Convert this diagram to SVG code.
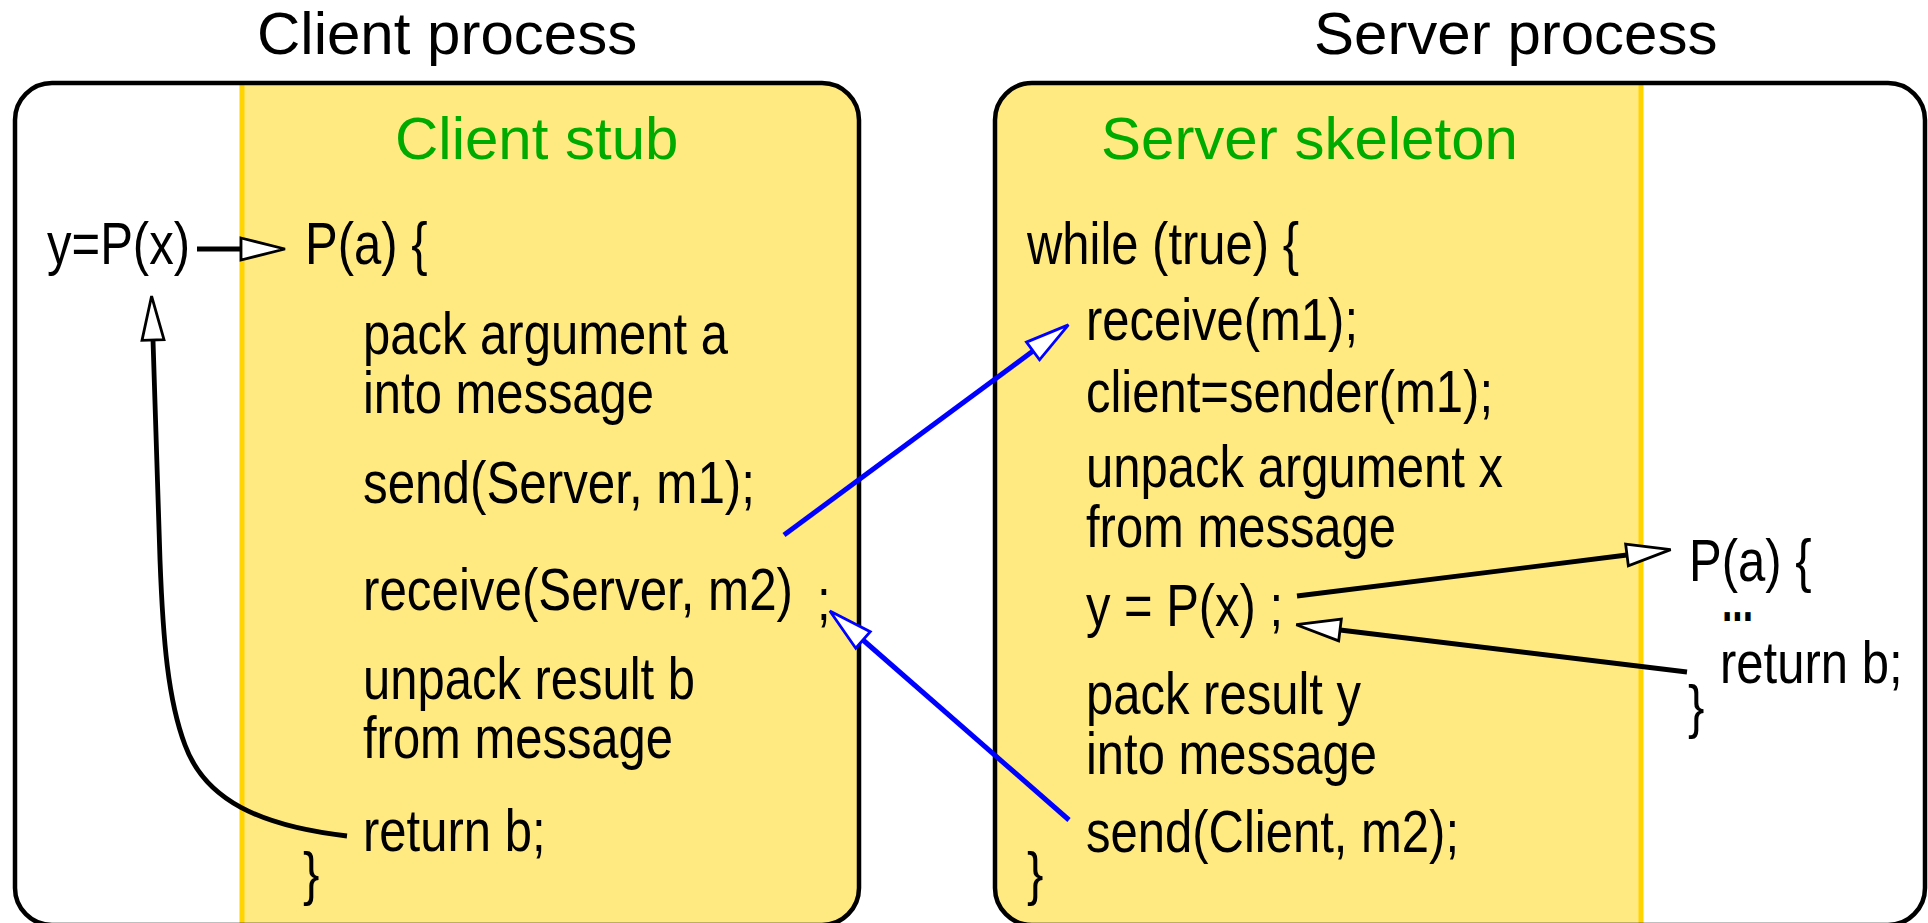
<svg xmlns="http://www.w3.org/2000/svg" width="1928" height="923" viewBox="0 0 1928 923">
<style>
  text { font-family: "Liberation Sans", Arial, sans-serif; font-size: 60px; fill: #000; }
  .head { fill: #00AA00; }
  .frame { fill: none; stroke: #000; stroke-width: 4.5; }
  .stub { fill: #FFEA82; }
  .edge { stroke: #FFD400; stroke-width: 5; }
  .blk { fill: none; stroke: #000; stroke-width: 4.8; }
  .blu { fill: none; stroke: #0000FF; stroke-width: 5; }
</style>
<defs>
  <clipPath id="clipL"><rect x="15" y="83" width="844" height="842" rx="37" ry="37"/></clipPath>
  <clipPath id="clipR"><rect x="995" y="83" width="930" height="842" rx="37" ry="37"/></clipPath>
  <marker id="hk" markerUnits="userSpaceOnUse" markerWidth="50" markerHeight="30" refX="0" refY="11" orient="auto" overflow="visible">
    <path d="M0,0 L44,11 L0,22 z" fill="#fff" stroke="#000" stroke-width="2.8" stroke-linejoin="miter"/>
  </marker>
  <marker id="hb" markerUnits="userSpaceOnUse" markerWidth="50" markerHeight="30" refX="0" refY="11" orient="auto" overflow="visible">
    <path d="M0,0 L44,11 L0,22 z" fill="#fff" stroke="#0000FF" stroke-width="2.8" stroke-linejoin="miter"/>
  </marker>
</defs>

<g id="client-process">
  <text x="257" y="54">Client process</text>
  <rect x="15" y="83" width="844" height="842" rx="37" ry="37" fill="#fff"/>
  <rect class="stub" x="242" y="83" width="620" height="845" clip-path="url(#clipL)"/>
  <line class="edge" x1="242" y1="85" x2="242" y2="923"/>
  <rect class="frame" x="15" y="83" width="844" height="842" rx="37" ry="37"/>
</g>

<g id="server-process">
  <text x="1314" y="54">Server process</text>
  <rect x="995" y="83" width="930" height="842" rx="37" ry="37" fill="#fff"/>
  <rect class="stub" x="995" y="83" width="646" height="845" clip-path="url(#clipR)"/>
  <line class="edge" x1="1641" y1="85" x2="1641" y2="923"/>
  <rect class="frame" x="995" y="83" width="930" height="842" rx="37" ry="37"/>
</g>

<g id="caller">
  <text x="47" y="264" textLength="143" lengthAdjust="spacingAndGlyphs">y=P(x)</text>
</g>

<g id="client-stub">
  <text class="head" x="395" y="159">Client stub</text>
  <text x="305" y="264" textLength="122.5" lengthAdjust="spacingAndGlyphs">P(a) {</text>
  <text x="363" y="354" textLength="365" lengthAdjust="spacingAndGlyphs">pack argument a</text>
  <text x="363" y="413" textLength="291" lengthAdjust="spacingAndGlyphs">into message</text>
  <text x="363" y="503" textLength="392" lengthAdjust="spacingAndGlyphs">send(Server, m1);</text>
  <text x="363" y="610" textLength="430" lengthAdjust="spacingAndGlyphs">receive(Server, m2)</text>
  <text x="817" y="620" textLength="13.6" lengthAdjust="spacingAndGlyphs">;</text>
  <text x="363" y="699" textLength="332" lengthAdjust="spacingAndGlyphs">unpack result b</text>
  <text x="363" y="758" textLength="310" lengthAdjust="spacingAndGlyphs">from message</text>
  <text x="363" y="851" textLength="182.5" lengthAdjust="spacingAndGlyphs">return b;</text>
  <text x="303" y="894" textLength="16.4" lengthAdjust="spacingAndGlyphs">}</text>
</g>

<g id="server-skeleton">
  <text class="head" x="1101" y="159">Server skeleton</text>
  <text x="1027" y="264" textLength="272" lengthAdjust="spacingAndGlyphs">while (true) {</text>
  <text x="1086" y="340" textLength="272" lengthAdjust="spacingAndGlyphs">receive(m1);</text>
  <text x="1086" y="412" textLength="407" lengthAdjust="spacingAndGlyphs">client=sender(m1);</text>
  <text x="1086" y="487" textLength="417" lengthAdjust="spacingAndGlyphs">unpack argument x</text>
  <text x="1086" y="547" textLength="310" lengthAdjust="spacingAndGlyphs">from message</text>
  <text x="1086" y="626" textLength="197" lengthAdjust="spacingAndGlyphs">y = P(x) ;</text>
  <text x="1086" y="714" textLength="275" lengthAdjust="spacingAndGlyphs">pack result y</text>
  <text x="1086" y="774" textLength="291" lengthAdjust="spacingAndGlyphs">into message</text>
  <text x="1086" y="852" textLength="373" lengthAdjust="spacingAndGlyphs">send(Client, m2);</text>
  <text x="1027" y="894" textLength="16.4" lengthAdjust="spacingAndGlyphs">}</text>
</g>

<g id="server-procedure">
  <text x="1689" y="581" textLength="122.5" lengthAdjust="spacingAndGlyphs">P(a) {</text>
  <text x="1722" y="621" font-weight="bold" textLength="31" lengthAdjust="spacingAndGlyphs">...</text>
  <text x="1720" y="683" textLength="182.5" lengthAdjust="spacingAndGlyphs">return b;</text>
  <text x="1688" y="727" textLength="16.4" lengthAdjust="spacingAndGlyphs">}</text>
</g>

<g id="connectors">
  <path class="blk" d="M197,249 L241,249" marker-end="url(#hk)"/>
  <path class="blk" d="M347,836 C260,826 205,800 185,745 C168,700 163,640 160,560 L153,340" marker-end="url(#hk)"/>
  <path class="blu" d="M784,535 L1033,351" marker-end="url(#hb)"/>
  <path class="blu" d="M1069,820 L863,640" marker-end="url(#hb)"/>
  <path class="blk" d="M1297,596 L1627,555" marker-end="url(#hk)"/>
  <path class="blk" d="M1687,672 L1340,630" marker-end="url(#hk)"/>
</g>
</svg>
